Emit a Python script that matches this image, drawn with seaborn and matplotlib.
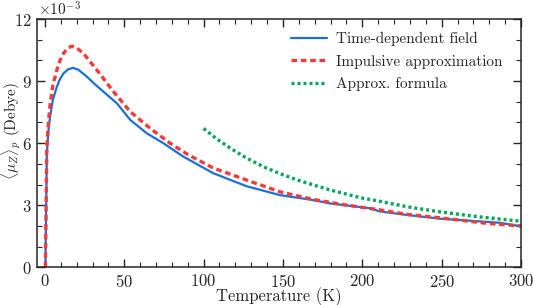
# Dipole moment vs temperature
import numpy as np
import pandas as pd
import seaborn as sns
import matplotlib
matplotlib.use('Agg')
import matplotlib.pyplot as plt
from matplotlib.ticker import MultipleLocator

# values in units of 1e-3 Debye
temp_td = [0.3, 1.2, 2.2, 3.3, 5, 7.5, 9.5, 11.7, 14.5, 17.6, 21, 26.5, 31, 37, 45.4, 53.8, 64.3,
           74.8, 87, 106, 127, 148, 169, 180, 197, 205, 211, 228, 249, 270, 287, 300]
mu_td = [0, 5.5, 6.6, 7.3, 8.1, 8.72, 9.1, 9.37, 9.56, 9.64, 9.55, 9.21, 8.88, 8.48, 7.92, 7.12, 6.47,
         5.99, 5.36, 4.55, 3.92, 3.49, 3.25, 3.08, 2.93, 2.85, 2.70, 2.53, 2.35, 2.24, 2.15, 1.98]

temp_imp = [0.3, 1.2, 2.2, 3.3, 5, 7.5, 9.5, 11.7, 14.5, 17, 20, 24.3, 28, 32.8, 43.3, 53.8, 66.4,
            79, 90, 106, 127, 148, 169, 187, 197, 209, 228, 249, 279, 300]
mu_imp = [0, 5.8, 7.0, 7.9, 8.8, 9.53, 10.0, 10.34, 10.6, 10.69, 10.6, 10.34, 9.98, 9.53, 8.48, 7.52,
          6.71, 5.99, 5.45, 4.80, 4.22, 3.65, 3.28, 3.04, 2.93, 2.80, 2.56, 2.39, 2.12, 2.0]

temp_apx = [100, 108, 117, 127, 138, 148, 159, 170, 180, 199, 207, 228, 249, 270, 297, 300]
mu_apx = [6.71, 6.22, 5.75, 5.28, 4.85, 4.53, 4.22, 3.96, 3.73, 3.36, 3.25, 2.93, 2.68, 2.47, 2.25, 2.23]

labels = ['Time-dependent field', 'Impulsive approximation', 'Approx. formula']

sns.set_style('ticks')
plt.rcParams['font.family'] = 'serif'
plt.rcParams['font.serif'] = ['cmr10', 'DejaVu Serif']
plt.rcParams['mathtext.fontset'] = 'cm'
plt.rcParams['axes.unicode_minus'] = False
plt.rcParams['axes.formatter.use_mathtext'] = True

fig = plt.figure(figsize=(5.33, 3.05), dpi=100)
ax = fig.add_axes([0.0694, 0.1236, 0.9081, 0.8141])

sns.lineplot(x=temp_td, y=mu_td, ax=ax, color='#1a6fdf', lw=1.6, label=labels[0])
sns.lineplot(x=temp_imp, y=mu_imp, ax=ax, color='#f53a3a', lw=2.4, ls=(0, (1.7, 1.1)), label=labels[1])
sns.lineplot(x=temp_apx, y=mu_apx, ax=ax, color='#00a65a', lw=2.4, ls=(0, (0.9, 0.9)), label=labels[2])

ax.set_xlim(-5, 300)
ax.set_ylim(0, 12)
ax.xaxis.set_major_locator(MultipleLocator(50))
ax.xaxis.set_minor_locator(MultipleLocator(10))
ax.yaxis.set_major_locator(MultipleLocator(3))
ax.yaxis.set_minor_locator(MultipleLocator(1))
ax.tick_params(which='both', direction='in', top=True, right=True, labelsize=12, pad=4)
ax.tick_params(which='major', length=6, width=1)
ax.tick_params(which='minor', length=3.5, width=0.8)
for s in ax.spines.values():
    s.set_linewidth(1.1)

ax.set_xlabel('Temperature (K)', fontsize=12, labelpad=-2)
ax.set_ylabel(r'$\langle\mu_Z\rangle_p$ (Debye)', fontsize=11)
ax.yaxis.set_label_coords(-0.028, 0.55)
fig.text(0.071, 0.95, r'$\times10^{-3}$', fontsize=11, ha='left', va='baseline')

ax.legend(loc='upper right', bbox_to_anchor=(0.988, 1.0), frameon=False, fontsize=11,
          handlelength=2.3, handletextpad=0.6, borderaxespad=0.45, labelspacing=0.55)

fig.savefig('out.png', dpi=100)
